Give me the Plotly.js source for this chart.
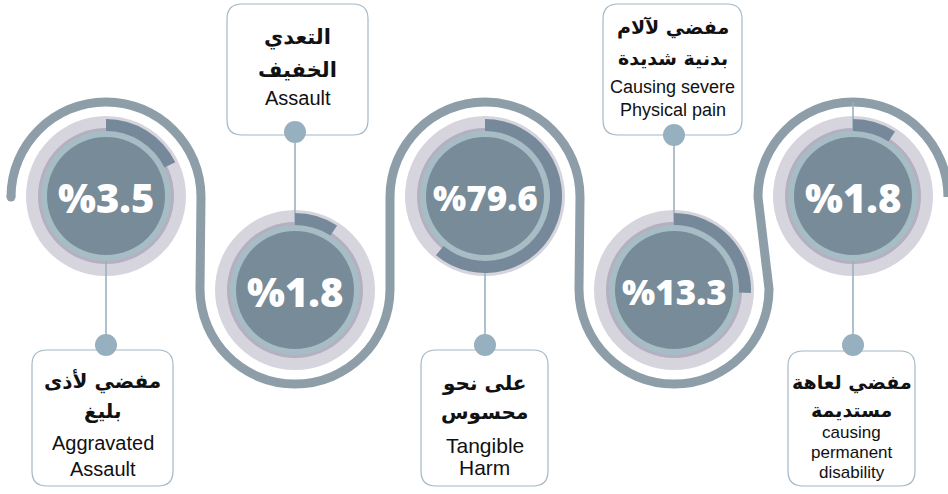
<!DOCTYPE html>
<html>
<head>
<meta charset="utf-8">
<script src="https://cdn.plot.ly/plotly-3.0.1.min.js"></script>
<style>html,body{margin:0;padding:0;background:#fff;}#chart{width:948px;height:494px;}</style>
</head>
<body>
<div id="chart"></div>
<script>
// ---------------- DATA ----------------
const values = [3.5, 1.8, 79.6, 13.3, 1.8];                 // percentages shown in the centres
const arcShown = [17.8, 9.2, 61.0, 25.6, 9.2];               // share of the ring drawn as dark arc
const labelsAr = [["مفضي لأذى", "بليغ"], ["التعدي", "الخفيف"], ["على نحو", "محسوس"], ["مفضي لآلام", "بدنية شديدة"], ["مفضي لعاهة", "مستديمة"]];
const labelsEn = [["Aggravated", "Assault"], ["Assault"], ["Tangible", "Harm"], ["Causing severe", "Physical pain"], ["causing", "permanent", "disability"]];

// ---------------- LAYOUT CONSTANTS ----------------
const W = 948, H = 494;
const cx = [106, 295, 485, 674, 853];
const cy = [196, 290, 196, 290, 196];
const waveY = [197, 289, 197, 289, 197];
const waveR = 95;
const boxes = [
  {x0: 32, x1: 173, y0: 350, y1: 486, dotY: 345, arY: [381, 411], enY: [443, 469], ar: 20, en: 20},
  {x0: 227, x1: 368, y0: 4, y1: 135, dotY: 132, arY: [37, 70], enY: [98], ar: 21, en: 20},
  {x0: 421, x1: 548, y0: 350, y1: 486, dotY: 345, arY: [383, 412], enY: [445, 467], ar: 20, en: 21},
  {x0: 603, x1: 742, y0: 4, y1: 135, dotY: 135, arY: [27, 58], enY: [87, 110], ar: 19, en: 18},
  {x0: 788, x1: 915, y0: 351, y1: 486, dotY: 345, arY: [382, 410], enY: [432, 452, 472], ar: 19, en: 17}
];
const C = {
  wave: '#8e9ea8', light: '#d6d5de', lav: '#b5afc1', teal: '#a6bdc5', dark: '#778b99',
  arc: '#76899a', conn: '#9ab1c0', dot: '#97b0c0', border: '#a3b8c6', text: '#111111'
};

// ---------------- HELPERS ----------------
function pt(x, y) { return x.toFixed(2) + ',' + y.toFixed(2); }
function arcSeg(x0, y0, r, a1, a2) {
  const t1 = a1 * Math.PI / 180, t2 = a2 * Math.PI / 180, d = t2 - t1;
  const k = 4 / 3 * Math.tan(d / 4) * r;
  const p0x = x0 + r * Math.cos(t1), p0y = y0 + r * Math.sin(t1);
  const p3x = x0 + r * Math.cos(t2), p3y = y0 + r * Math.sin(t2);
  const p1x = p0x - k * Math.sin(t1), p1y = p0y + k * Math.cos(t1);
  const p2x = p3x + k * Math.sin(t2), p2y = p3y - k * Math.cos(t2);
  return 'C' + pt(p1x, p1y) + ' ' + pt(p2x, p2y) + ' ' + pt(p3x, p3y);
}
function circle(x, y, r, fill, extra) {
  return Object.assign({type: 'circle', xref: 'x', yref: 'y', x0: x - r, x1: x + r, y0: y - r, y1: y + r,
    fillcolor: fill, line: {width: 0}, layer: 'below'}, extra || {});
}
function roundRect(b, r) {
  const {x0, x1, y0, y1} = b;
  return 'M' + pt(x0 + r, y0) + ' L' + pt(x1 - r, y0) + ' Q' + pt(x1, y0) + ' ' + pt(x1, y0 + r) +
    ' L' + pt(x1, y1 - r) + ' Q' + pt(x1, y1) + ' ' + pt(x1 - r, y1) +
    ' L' + pt(x0 + r, y1) + ' Q' + pt(x0, y1) + ' ' + pt(x0, y1 - r) +
    ' L' + pt(x0, y0 + r) + ' Q' + pt(x0, y0) + ' ' + pt(x0 + r, y0) + ' Z';
}

// ---------------- WAVE LINE ----------------
let wave = 'M' + pt(cx[0] - waveR, waveY[0]);
for (let i = 0; i < cx.length; i++) {
  const startX = cx[i] - waveR;
  if (i > 0) wave += ' L' + pt(startX, waveY[i]);
  if (i % 2 === 0) {
    wave += ' ' + arcSeg(cx[i], waveY[i], waveR, 180, 270) + ' ' + arcSeg(cx[i], waveY[i], waveR, 270, 360);
  } else {
    wave += ' ' + arcSeg(cx[i], waveY[i], waveR, 180, 90) + ' ' + arcSeg(cx[i], waveY[i], waveR, 90, 0);
  }
}

const shapes = [];
shapes.push({type: 'path', path: wave, xref: 'x', yref: 'y', line: {color: C.wave, width: 9}, layer: 'below'});
shapes.push(circle(cx[0] - waveR, waveY[0], 4.5, C.wave));

// rings
for (let i = 0; i < cx.length; i++) shapes.push(circle(cx[i], cy[i], 80, C.light));
for (let i = 0; i < cx.length; i++) shapes.push(circle(cx[i], cy[i], 68, C.lav));
// connector lines
for (let i = 0; i < cx.length; i++) {
  const b = boxes[i];
  let ya = cy[i], yb = b.dotY;
  if (i === 4) ya = waveY[4] - waveR;
  shapes.push({type: 'line', xref: 'x', yref: 'y', x0: cx[i], x1: cx[i], y0: ya, y1: yb,
    line: {color: C.conn, width: 1.6}, layer: 'below'});
}
for (let i = 0; i < cx.length; i++) shapes.push(circle(cx[i], cy[i], 65, C.teal));
for (let i = 0; i < cx.length; i++) shapes.push(circle(cx[i], cy[i], 59, C.dark));

// label boxes and dots
boxes.forEach((b) => {
  shapes.push({type: 'path', path: roundRect(b, 15), xref: 'x', yref: 'y', fillcolor: 'rgba(255,255,255,0)',
    line: {color: C.border, width: 1.2}, layer: 'above'});
});
boxes.forEach((b, i) => {
  shapes.push(circle(cx[i], b.dotY, 11, C.dot, {layer: 'above'}));
});

// ---------------- ARCS (pie traces) ----------------
const R = 77;
const traces = [{type: 'scatter', x: [0], y: [0], mode: 'markers', marker: {opacity: 0}, hoverinfo: 'skip', showlegend: false}];
arcShown.forEach((a, i) => {
  traces.push({
    type: 'pie', values: [a, 100 - a], sort: false, direction: 'clockwise', rotation: 0,
    hole: 65 / R, textinfo: 'none', hoverinfo: 'skip', showlegend: false,
    marker: {colors: [C.arc, 'rgba(0,0,0,0)'], line: {width: 0}},
    domain: {x: [(cx[i] - R) / W, (cx[i] + R) / W], y: [1 - (cy[i] + R) / H, 1 - (cy[i] - R) / H]}
  });
});

// ---------------- ANNOTATIONS ----------------
const annotations = [];
values.forEach((v, i) => {
  const txt = '%' + v;
  annotations.push({x: cx[i], y: cy[i] + 1, xref: 'x', yref: 'y', text: txt, showarrow: false,
    font: {family: 'Open Sans, sans-serif', size: txt.length > 4 ? 35 : 40, color: '#ffffff', weight: 800},
    xanchor: 'center', yanchor: 'middle'});
});
boxes.forEach((b, i) => {
  const bx = (b.x0 + b.x1) / 2;
  labelsAr[i].forEach((t, j) => {
    annotations.push({x: bx, y: b.arY[j], xref: 'x', yref: 'y', text: t, showarrow: false,
      font: {family: 'DejaVu Sans, sans-serif', size: b.ar, color: C.text, weight: 700},
      xanchor: 'center', yanchor: 'middle'});
  });
  labelsEn[i].forEach((t, j) => {
    annotations.push({x: bx, y: b.enY[j], xref: 'x', yref: 'y', text: t, showarrow: false,
      font: {family: 'Liberation Sans, Arial, sans-serif', size: b.en, color: C.text},
      xanchor: 'center', yanchor: 'middle'});
  });
});

const layout = {
  width: W, height: H, margin: {l: 0, r: 0, t: 0, b: 0},
  paper_bgcolor: '#ffffff', plot_bgcolor: '#ffffff',
  xaxis: {range: [0, W], visible: false, fixedrange: true},
  yaxis: {range: [H, 0], visible: false, fixedrange: true},
  shapes: shapes, annotations: annotations, showlegend: false
};
Plotly.newPlot('chart', traces, layout, {staticPlot: true, displayModeBar: false});
</script>
</body>
</html>
